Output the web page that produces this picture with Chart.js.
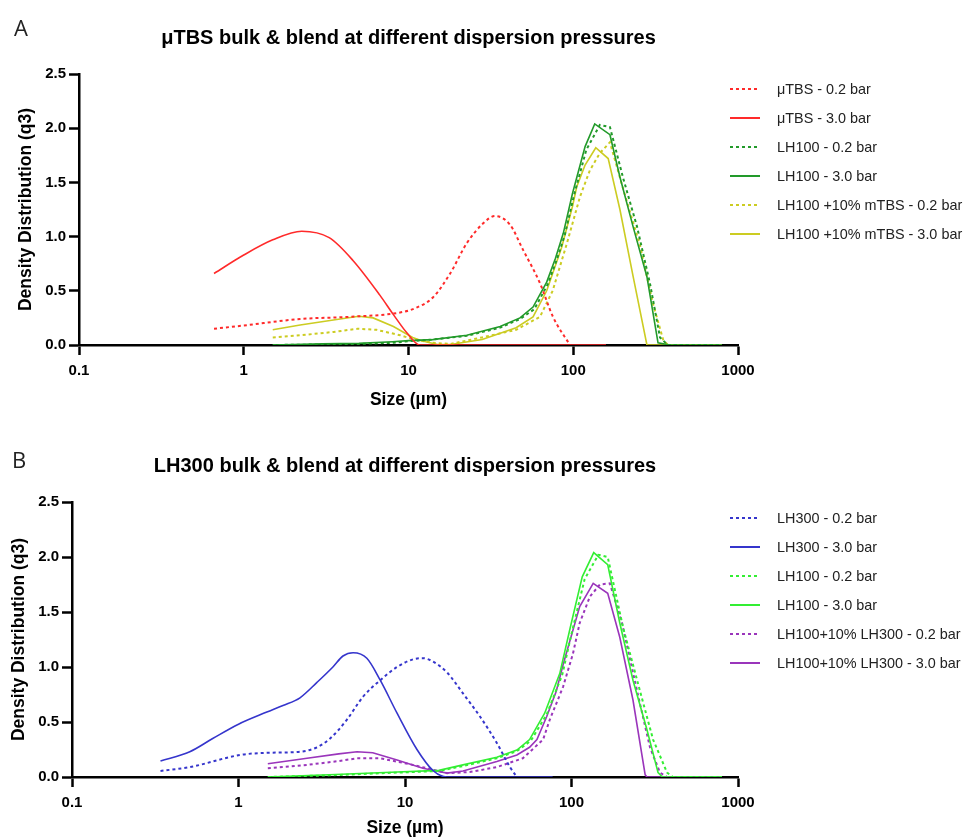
<!DOCTYPE html>
<html><head><meta charset="utf-8">
<script src="https://cdn.jsdelivr.net/npm/chart.js@4.4.1/dist/chart.umd.min.js"></script>
<style>
html,body{margin:0;padding:0;background:#fff;}
body{width:964px;height:839px;position:relative;overflow:hidden;font-family:"Liberation Sans",Arial,sans-serif;}
.panel{position:absolute;left:0;width:964px;}
.letter{position:absolute;font-family:"Open Sans","Liberation Sans",sans-serif;font-size:22px;color:#222;line-height:1;}
.legend{position:absolute;left:730px;}
.legend .row{display:flex;align-items:center;height:29px;}
.legend svg{display:block;margin-right:17px;flex:none;}
.legend span{font-size:14.4px;color:#222;white-space:nowrap;}
</style></head>
<body>
<div class="panel" style="top:0;height:420px"><canvas id="cA" width="964" height="420"></canvas><div class="letter" style="left:14px;top:16px">A</div><div class="legend" id="legA" style="top:74px"></div></div>
<div class="panel" style="top:420px;height:419px"><canvas id="cB" width="964" height="419"></canvas><div class="letter" style="left:12px;top:28px">B</div><div class="legend" id="legB" style="top:83px"></div></div>
<script>
// ---- axis ticks ----
const xTicks = [0.1, 1, 10, 100, 1000];
const xTickLabels = ['0.1', '1', '10', '100', '1000'];
const yTicks = [0, 0.5, 1.0, 1.5, 2.0, 2.5];
const yTickLabels = ['0.0', '0.5', '1.0', '1.5', '2.0', '2.5'];

// ---- Panel A data ----
const utbs02Size = [0.66, 1.0, 2.2, 4.4, 8.9, 11, 14.1, 17.9, 22.6, 28.3, 33.5, 41.3, 49.5, 62.8, 75.3, 95.5];
const utbs02Val  = [0.15, 0.18, 0.24, 0.26, 0.30, 0.34, 0.44, 0.66, 0.94, 1.12, 1.19, 1.11, 0.88, 0.57, 0.26, 0];
const utbs30Size = [0.66, 1.0, 1.5, 2.25, 3.3, 4.6, 6.7, 8.1, 9.8, 11.7, 20, 50, 100, 158];
const utbs30Val  = [0.66, 0.83, 0.97, 1.05, 0.99, 0.78, 0.46, 0.28, 0.11, 0, 0, 0, 0, 0];
const lh100A02Size = [1.5, 3, 5, 8, 10, 14, 22.6, 36, 47.5, 58, 70, 80, 89, 101, 120, 145, 167, 200, 244, 292, 336, 375, 800];
const lh100A02Val  = [0, 0.005, 0.01, 0.02, 0.035, 0.05, 0.085, 0.16, 0.24, 0.33, 0.56, 0.80, 1.02, 1.38, 1.80, 2.03, 2.01, 1.55, 1.09, 0.57, 0.07, 0, 0];
const lh100A30Size = [1.5, 3, 5, 8, 10, 14, 22.6, 36, 47.5, 57, 69, 78, 87, 99, 118, 135, 167, 192, 231, 280, 327, 386, 800];
const lh100A30Val  = [0, 0.01, 0.015, 0.03, 0.04, 0.05, 0.09, 0.17, 0.25, 0.35, 0.58, 0.80, 1.03, 1.40, 1.83, 2.04, 1.94, 1.55, 1.09, 0.63, 0.02, 0, 0];
const mtbs02Size = [1.5, 2.2, 3.5, 4.9, 6.4, 8.9, 10.6, 14, 18, 28, 45, 62.8, 75, 91.6, 110, 126, 145, 167, 200, 254, 305, 351, 375, 800];
const mtbs02Val  = [0.07, 0.09, 0.12, 0.15, 0.14, 0.09, 0.055, 0.02, 0.01, 0.07, 0.14, 0.26, 0.50, 0.94, 1.37, 1.61, 1.77, 1.87, 1.45, 0.92, 0.38, 0.05, 0, 0];
const mtbs30Size = [1.5, 2.2, 3.5, 5.0, 6.1, 8.1, 10.6, 12, 15, 18, 28, 45, 57, 69, 85, 99, 105, 118, 137, 163, 192, 231, 280, 800];
const mtbs30Val  = [0.14, 0.185, 0.23, 0.265, 0.25, 0.17, 0.07, 0.04, 0.005, 0.005, 0.05, 0.16, 0.26, 0.50, 0.90, 1.28, 1.46, 1.66, 1.82, 1.72, 1.25, 0.63, 0, 0];

// ---- Panel B data ----
const lh300_02Size = [0.34, 0.51, 1.02, 1.48, 2.34, 2.96, 3.55, 4.47, 5.6, 7.1, 8.96, 11.2, 12.8, 14.7, 17.9, 22.3, 28.2, 35.6, 42.7, 47];
const lh300_02Val  = [0.055, 0.09, 0.20, 0.22, 0.23, 0.27, 0.35, 0.52, 0.73, 0.88, 1.0, 1.07, 1.08, 1.05, 0.95, 0.76, 0.55, 0.31, 0.09, 0];
const lh300_30Size = [0.34, 0.51, 0.70, 1.0, 1.48, 1.85, 2.34, 2.96, 3.69, 4.24, 4.88, 5.9, 7.1, 8.96, 11.8, 14.7, 17.9, 40, 77];
const lh300_30Val  = [0.145, 0.23, 0.35, 0.48, 0.59, 0.65, 0.72, 0.86, 1.0, 1.10, 1.13, 1.08, 0.88, 0.58, 0.25, 0.06, 0, 0, 0];
const lh100B02Size = [1.5, 3.5, 9, 16, 22.3, 35.6, 47, 57, 71, 88, 101, 120, 145, 165, 204, 257, 309, 375, 407, 800];
const lh100B02Val  = [0, 0.015, 0.04, 0.055, 0.10, 0.17, 0.235, 0.33, 0.57, 0.93, 1.33, 1.80, 2.02, 2.0, 1.36, 0.79, 0.34, 0.04, 0, 0];
const lh100B30Size = [1.5, 3.5, 9, 16, 22.3, 35.6, 47, 56, 69, 85, 98, 116, 136, 165, 195, 234, 284, 331, 352, 800];
const lh100B30Val  = [0, 0.02, 0.045, 0.06, 0.11, 0.18, 0.245, 0.34, 0.58, 0.94, 1.35, 1.82, 2.04, 1.93, 1.40, 0.88, 0.43, 0.04, 0, 0];
const blend02Size = [1.5, 2.58, 4.0, 5.15, 7.1, 11.2, 17.9, 24.5, 35.6, 51, 67.5, 74, 89, 102, 112, 129, 148, 170, 201, 247, 296, 340, 375, 800];
const blend02Val  = [0.08, 0.11, 0.145, 0.17, 0.17, 0.11, 0.035, 0.045, 0.09, 0.17, 0.34, 0.52, 0.82, 1.12, 1.40, 1.64, 1.75, 1.76, 1.40, 0.79, 0.27, 0.04, 0, 0];
const blend30Size = [1.5, 2.58, 4.0, 5.15, 6.4, 8.96, 12.8, 17.9, 22.3, 35.6, 47, 56, 62, 71, 81, 89, 112, 135, 165, 195, 234, 277, 284, 800];
const blend30Val  = [0.12, 0.17, 0.21, 0.23, 0.22, 0.155, 0.08, 0.035, 0.055, 0.14, 0.20, 0.27, 0.34, 0.55, 0.78, 1.02, 1.55, 1.76, 1.67, 1.27, 0.70, 0.02, 0, 0];

const FAM = '"Liberation Sans", Arial, sans-serif';
const DASH = [3, 3];
const pts = (s, v) => s.map((x, i) => ({x: x, y: v[i]}));

function ds(label, s, v, color, dashed, smooth) {
  return {
    label: label, data: pts(s, v), borderColor: color, backgroundColor: color,
    borderWidth: dashed ? 2 : 1.6, borderDash: dashed ? DASH : [],
    pointRadius: 0, pointHoverRadius: 0, fill: false,
    tension: smooth ? 0.4 : 0, cubicInterpolationMode: smooth ? 'monotone' : 'default'
  };
}

function makeChart(canvasId, legendId, title, datasets, L) {
  const chart = new Chart(document.getElementById(canvasId), {
    type: 'line',
    data: {datasets: datasets},
    options: {
      responsive: false, animation: false, events: [],
      layout: {padding: {left: 0, right: L.right, top: 0, bottom: 0}},
      plugins: {
        legend: {display: false}, tooltip: {enabled: false},
        title: {display: true, text: title, fullSize: false, color: '#000',
          font: {family: FAM, size: 20, weight: 'bold'}, padding: {top: L.titleTop, bottom: L.titleBottom}}
      },
      scales: {
        x: {
          type: 'logarithmic', min: 0.1, max: 1000,
          afterBuildTicks: s => { s.ticks = xTicks.map(v => ({value: v})); },
          afterFit: s => { s.height = L.xHeight; },
          ticks: {autoSkip: false, maxRotation: 0, padding: 7, color: '#000',
            font: {family: FAM, size: 15, weight: 'bold'},
            callback: v => { const i = xTicks.indexOf(v); return i >= 0 ? xTickLabels[i] : ''; }},
          grid: {display: true, drawOnChartArea: false, drawTicks: true, tickLength: 10, tickWidth: 2.5, color: '#000'},
          border: {display: true, color: '#000', width: 2.5},
          title: {display: true, text: 'Size (µm)', color: '#000', font: {family: FAM, size: 17.5, weight: 'bold'},
            padding: {top: 0, bottom: L.xTitleBottom}}
        },
        y: {
          min: 0, max: 2.5,
          afterBuildTicks: s => { s.ticks = yTicks.map(v => ({value: v})); },
          afterFit: s => { s.width = L.yWidth; },
          ticks: {padding: 3, color: '#000', font: {family: FAM, size: 15, weight: 'bold'},
            callback: v => { const i = yTicks.indexOf(v); return i >= 0 ? yTickLabels[i] : ''; }},
          grid: {display: true, drawOnChartArea: false, drawTicks: true, tickLength: 10, tickWidth: 2.5, color: '#000'},
          border: {display: true, color: '#000', width: 2.5},
          title: {display: true, text: 'Density Distribution (q3)', color: '#000', font: {family: FAM, size: 17.5, weight: 'bold'},
            padding: {top: L.yTitleTop, bottom: 0}}
        }
      }
    }
  });
  const leg = document.getElementById(legendId);
  chart.data.datasets.forEach(d => {
    const row = document.createElement('div');
    row.className = 'row';
    const dash = d.borderDash.length ? d.borderDash.join(',') : 'none';
    row.innerHTML = '<svg width="30" height="4"><line x1="0" y1="2" x2="30" y2="2" stroke="' + d.borderColor +
      '" stroke-width="2" stroke-dasharray="' + dash + '"/></svg>';
    const sp = document.createElement('span');
    sp.textContent = d.label;
    row.appendChild(sp);
    leg.appendChild(row);
  });
  return chart;
}

const RED = '#ff2a2a', GREEN = '#229a2a', YELLOW = '#cccc22';
const BLUE = '#3535cc', LGREEN = '#33ee33', PURPLE = '#9a35bb';

makeChart('cA', 'legA', 'μTBS bulk & blend at different dispersion pressures', [
  ds('μTBS - 0.2 bar', utbs02Size, utbs02Val, RED, true, true),
  ds('μTBS - 3.0 bar', utbs30Size, utbs30Val, RED, false, true),
  ds('LH100 - 0.2 bar', lh100A02Size, lh100A02Val, GREEN, true, false),
  ds('LH100 - 3.0 bar', lh100A30Size, lh100A30Val, GREEN, false, false),
  ds('LH100 +10% mTBS - 0.2 bar', mtbs02Size, mtbs02Val, YELLOW, true, false),
  ds('LH100 +10% mTBS - 3.0 bar', mtbs30Size, mtbs30Val, YELLOW, false, false)
], {right: 226, titleTop: 26, titleBottom: 24, xHeight: 75, xTitleBottom: 9.5, yWidth: 79, yTitleTop: 15.5});

makeChart('cB', 'legB', 'LH300 bulk & blend at different dispersion pressures', [
  ds('LH300 - 0.2 bar', lh300_02Size, lh300_02Val, BLUE, true, true),
  ds('LH300 - 3.0 bar', lh300_30Size, lh300_30Val, BLUE, false, true),
  ds('LH100 - 0.2 bar', lh100B02Size, lh100B02Val, LGREEN, true, false),
  ds('LH100 - 3.0 bar', lh100B30Size, lh100B30Val, LGREEN, false, false),
  ds('LH100+10% LH300 - 0.2 bar', blend02Size, blend02Val, PURPLE, true, false),
  ds('LH100+10% LH300 - 3.0 bar', blend30Size, blend30Val, PURPLE, false, false)
], {right: 226, titleTop: 34, titleBottom: 24, xHeight: 62, xTitleBottom: 0, yWidth: 72, yTitleTop: 8.5});
</script>
</body></html>
